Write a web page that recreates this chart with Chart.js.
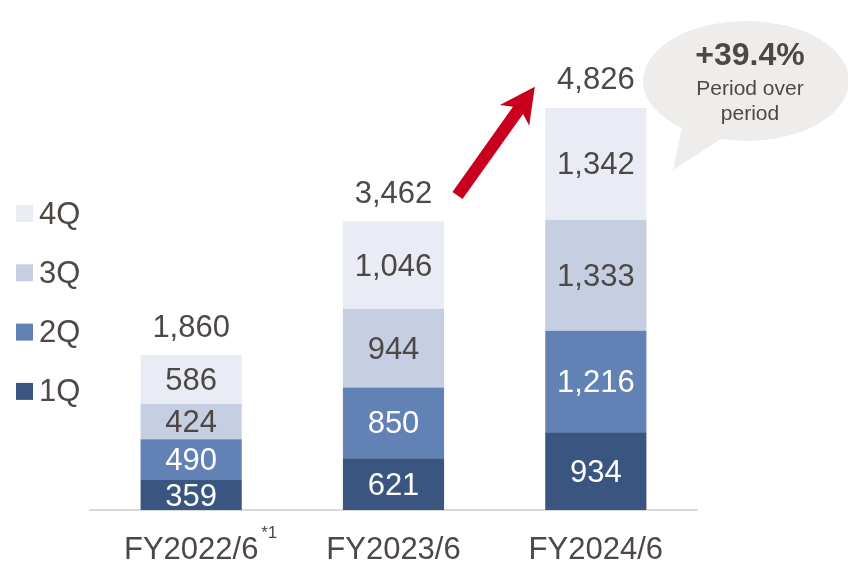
<!DOCTYPE html>
<html>
<head>
<meta charset="utf-8">
<script src="https://cdn.jsdelivr.net/npm/chart.js@4/dist/chart.umd.min.js"></script>
<style>
  html, body { margin: 0; padding: 0; background: #fff; }
  #wrap { width: 848px; height: 562px; position: relative; }
</style>
</head>
<body>
<div id="wrap"><canvas id="salesChart" width="848" height="562"></canvas></div>
<script>
// data
var categories = ['FY2022/6', 'FY2023/6', 'FY2024/6'];
var q1 = [359, 621, 934];
var q2 = [490, 850, 1216];
var q3 = [424, 944, 1333];
var q4 = [586, 1046, 1342];
var totals = [1860, 3462, 4826];
var growthText = '+39.4%';

var textColor = '#4d4845';
var FONT = '"Liberation Sans", Arial, sans-serif';

// value labels inside segments + totals above bars
var labelsPlugin = {
    id: 'labels',
    afterDatasetsDraw: function (chart) {
        var ctx = chart.ctx;
        ctx.save();
        ctx.font = '31px ' + FONT;
        ctx.textAlign = 'center';
        ctx.textBaseline = 'middle';
        chart.data.datasets.forEach(function (ds, i) {
            var meta = chart.getDatasetMeta(i);
            meta.data.forEach(function (bar, j) {
                ctx.fillStyle = ds.labelColor;
                var mid = (bar.y + bar.base) / 2;
                ctx.fillText(ds.data[j].toLocaleString('en-US'), bar.x, mid + 2);
            });
        });
        var top = chart.getDatasetMeta(chart.data.datasets.length - 1);
        ctx.fillStyle = textColor;
        top.data.forEach(function (bar, j) {
            ctx.fillText(totals[j].toLocaleString('en-US'), bar.x, bar.y - 27);
        });

        // footnote mark on first category
        var xs = chart.scales.x;
        ctx.font = '17px ' + FONT;
        ctx.fillText('*1', xs.getPixelForValue(0) + 78, 533);

        // legend on the left, 4Q on top
        ctx.font = '31px ' + FONT;
        ctx.textAlign = 'left';
        var n = chart.data.datasets.length;
        for (var k = n - 1; k >= 0; k--) {
            var d = chart.data.datasets[k];
            var yy = 213 + (n - 1 - k) * 59.3;
            ctx.fillStyle = d.backgroundColor;
            ctx.fillRect(16, yy - 8, 17, 17);
            ctx.fillStyle = textColor;
            ctx.fillText(d.label, 39, yy + 2);
        }

        // red arrow between FY2023 and FY2024 totals
        var ys = chart.scales.y;
        var x0 = xs.getPixelForValue(1) + 64, y0 = ys.getPixelForValue(totals[1]) - 26;
        var x1 = xs.getPixelForValue(2) - 61, y1 = ys.getPixelForValue(totals[2]) - 21;
        var dx = x1 - x0, dy = y1 - y0, len = Math.sqrt(dx * dx + dy * dy);
        var ux = dx / len, uy = dy / len, px = -uy, py = ux;
        var sw = 6.2, hw = 18, hl = 35;
        var bx = x1 - ux * hl, by = y1 - uy * hl;
        var nx = x1 - ux * (hl - 6), ny = y1 - uy * (hl - 6);
        ctx.fillStyle = '#c8001e';
        ctx.beginPath();
        ctx.moveTo(x0 + px * sw, y0 + py * sw);
        ctx.lineTo(nx + px * sw, ny + py * sw);
        ctx.lineTo(bx + px * hw, by + py * hw);
        ctx.lineTo(x1, y1);
        ctx.lineTo(bx - px * hw, by - py * hw);
        ctx.lineTo(nx - px * sw, ny - py * sw);
        ctx.lineTo(x0 - px * sw, y0 - py * sw);
        ctx.closePath();
        ctx.fill();

        // speech bubble
        ctx.fillStyle = '#eeedeb';
        ctx.beginPath();
        ctx.ellipse(746, 81, 103, 60, 0, 0, Math.PI * 2);
        ctx.fill();
        ctx.beginPath();
        ctx.moveTo(684, 118);
        ctx.lineTo(724, 137);
        ctx.lineTo(673, 170);
        ctx.closePath();
        ctx.fill();
        ctx.fillStyle = textColor;
        ctx.textAlign = 'center';
        ctx.font = 'bold 32px ' + FONT;
        ctx.fillText(growthText, 750, 56);
        ctx.font = '21px ' + FONT;
        ctx.fillText('Period over', 750, 89);
        ctx.fillText('period', 750, 114);
        ctx.restore();
    }
};

var ctx = document.getElementById('salesChart').getContext('2d');
var chart = new Chart(ctx, {
    type: 'bar',
    data: {
        labels: categories,
        datasets: [
            { label: '1Q', data: q1, backgroundColor: '#3a5680', labelColor: '#ffffff' },
            { label: '2Q', data: q2, backgroundColor: '#6282b6', labelColor: '#ffffff' },
            { label: '3Q', data: q3, backgroundColor: '#c5cfe1', labelColor: textColor },
            { label: '4Q', data: q4, backgroundColor: '#e9ecf4', labelColor: textColor }
        ]
    },
    options: {
        responsive: false,
        animation: false,
        devicePixelRatio: 1,
        layout: { padding: { left: 90, right: 151, top: 10, bottom: 0 } },
        plugins: { legend: { display: false }, tooltip: { enabled: false } },
        datasets: { bar: { categoryPercentage: 1, barPercentage: 0.5, borderWidth: 0 } },
        scales: {
            x: {
                stacked: true,
                grid: { display: false, drawTicks: false },
                border: { color: '#d9d9d9', width: 2 },
                ticks: { color: textColor, font: { size: 31, family: FONT }, padding: 22, maxRotation: 0 },
                afterFit: function (s) { s.height = 52; }
            },
            y: {
                stacked: true,
                display: false,
                min: 0,
                max: 6000
            }
        }
    },
    plugins: [labelsPlugin]
});
</script>
</body>
</html>
